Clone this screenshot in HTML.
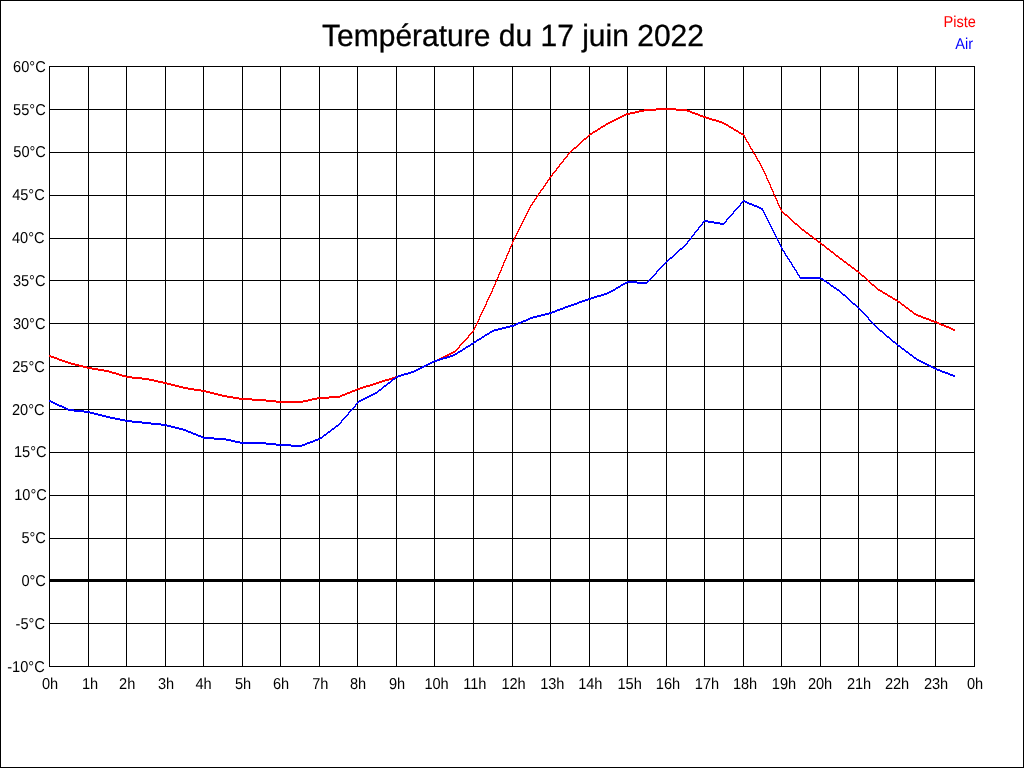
<!DOCTYPE html>
<html lang="fr"><head><meta charset="utf-8"><title>Température du 17 juin 2022</title>
<style>
html,body{margin:0;padding:0;background:#fff;}
body{width:1024px;height:768px;overflow:hidden;position:relative;}
svg{position:absolute;left:0;top:0;display:block;will-change:transform;}
text{font-family:"Liberation Sans",sans-serif;fill:#000;text-rendering:geometricPrecision;}
.t{font-size:30px;stroke:#000;stroke-width:0.3px;}
.l{font-size:14.6px;}
</style></head><body>
<svg width="1024" height="768" viewBox="0 0 1024 768">
<rect x="0" y="0" width="1024" height="768" fill="#fff"/>
<g shape-rendering="crispEdges" fill="#000">
<rect x="0" y="0" width="1024" height="1"/><rect x="0" y="767" width="1024" height="1"/>
<rect x="0" y="0" width="1" height="768"/><rect x="1023" y="0" width="1" height="768"/>
<rect x="49" y="66" width="1" height="601"/>
<rect x="88" y="66" width="1" height="601"/>
<rect x="126" y="66" width="1" height="601"/>
<rect x="165" y="66" width="1" height="601"/>
<rect x="203" y="66" width="1" height="601"/>
<rect x="242" y="66" width="1" height="601"/>
<rect x="280" y="66" width="1" height="601"/>
<rect x="319" y="66" width="1" height="601"/>
<rect x="357" y="66" width="1" height="601"/>
<rect x="396" y="66" width="1" height="601"/>
<rect x="434" y="66" width="1" height="601"/>
<rect x="473" y="66" width="1" height="601"/>
<rect x="512" y="66" width="1" height="601"/>
<rect x="550" y="66" width="1" height="601"/>
<rect x="589" y="66" width="1" height="601"/>
<rect x="627" y="66" width="1" height="601"/>
<rect x="666" y="66" width="1" height="601"/>
<rect x="704" y="66" width="1" height="601"/>
<rect x="743" y="66" width="1" height="601"/>
<rect x="781" y="66" width="1" height="601"/>
<rect x="820" y="66" width="1" height="601"/>
<rect x="858" y="66" width="1" height="601"/>
<rect x="897" y="66" width="1" height="601"/>
<rect x="935" y="66" width="1" height="601"/>
<rect x="974" y="66" width="1" height="601"/>
<rect x="49" y="66" width="926" height="1"/>
<rect x="49" y="109" width="926" height="1"/>
<rect x="49" y="152" width="926" height="1"/>
<rect x="49" y="195" width="926" height="1"/>
<rect x="49" y="238" width="926" height="1"/>
<rect x="49" y="280" width="926" height="1"/>
<rect x="49" y="323" width="926" height="1"/>
<rect x="49" y="366" width="926" height="1"/>
<rect x="49" y="409" width="926" height="1"/>
<rect x="49" y="452" width="926" height="1"/>
<rect x="49" y="495" width="926" height="1"/>
<rect x="49" y="538" width="926" height="1"/>
<rect x="49" y="579" width="926" height="3"/>
<rect x="49" y="623" width="926" height="1"/>
<rect x="49" y="666" width="926" height="1"/>
</g>
<path fill="#ff0000" shape-rendering="crispEdges" d="M656 108h20v1h-20zM644 109h43v1h-43zM639 110h17v1h-17zM676 110h14v1h-14zM635 111h9v1h-9zM687 111h5v1h-5zM630 112h9v1h-9zM690 112h5v1h-5zM626 113h9v1h-9zM692 113h6v1h-6zM624 114h6v1h-6zM695 114h5v1h-5zM622 115h4v1h-4zM698 115h5v1h-5zM620 116h4v1h-4zM700 116h6v1h-6zM618 117h4v1h-4zM703 117h6v1h-6zM616 118h4v1h-4zM706 118h6v1h-6zM614 119h4v1h-4zM709 119h7v1h-7zM612 120h4v1h-4zM712 120h7v1h-7zM610 121h4v1h-4zM716 121h6v1h-6zM608 122h4v1h-4zM719 122h5v1h-5zM606 123h4v1h-4zM722 123h4v1h-4zM605 124h3v1h-3zM724 124h4v1h-4zM603 125h3v1h-3zM726 125h3v1h-3zM601 126h4v1h-4zM728 126h3v1h-3zM600 127h3v1h-3zM729 127h4v1h-4zM598 128h3v1h-3zM731 128h3v1h-3zM597 129h3v1h-3zM733 129h3v1h-3zM595 130h3v1h-3zM734 130h4v1h-4zM593 131h4v1h-4zM736 131h3v1h-3zM592 132h3v1h-3zM738 132h3v1h-3zM590 133h3v1h-3zM739 133h4v1h-4zM589 134h3v1h-3zM741 134h3v1h-3zM588 135h2v1h-2zM743 135h2v1h-2zM587 136h2v1h-2zM744 136h1v1h-1zM586 137h2v1h-2zM744 137h2v1h-2zM584 138h3v1h-3zM745 138h1v1h-1zM583 139h3v1h-3zM745 139h2v1h-2zM582 140h2v1h-2zM746 140h1v1h-1zM581 141h2v1h-2zM746 141h2v1h-2zM580 142h2v1h-2zM747 142h2v1h-2zM579 143h2v1h-2zM748 143h1v1h-1zM578 144h2v1h-2zM748 144h2v1h-2zM577 145h2v1h-2zM749 145h1v1h-1zM576 146h2v1h-2zM749 146h2v1h-2zM574 147h3v1h-3zM750 147h1v1h-1zM573 148h3v1h-3zM750 148h2v1h-2zM572 149h2v1h-2zM751 149h2v1h-2zM571 150h2v1h-2zM752 150h1v1h-1zM570 151h2v1h-2zM752 151h2v1h-2zM569 152h2v1h-2zM753 152h1v1h-1zM568 153h2v1h-2zM753 153h2v1h-2zM567 154h2v1h-2zM754 154h2v1h-2zM567 155h1v1h-1zM755 155h1v1h-1zM566 156h2v1h-2zM755 156h2v1h-2zM565 157h2v1h-2zM756 157h1v1h-1zM564 158h2v1h-2zM756 158h2v1h-2zM563 159h2v1h-2zM757 159h1v1h-1zM563 160h1v1h-1zM757 160h2v1h-2zM562 161h2v1h-2zM758 161h2v1h-2zM561 162h2v1h-2zM759 162h1v1h-1zM560 163h2v1h-2zM759 163h2v1h-2zM559 164h2v1h-2zM760 164h1v1h-1zM559 165h1v1h-1zM760 165h2v1h-2zM558 166h2v1h-2zM761 166h1v1h-1zM557 167h2v1h-2zM761 167h2v1h-2zM556 168h2v1h-2zM762 168h1v1h-1zM556 169h1v1h-1zM762 169h2v1h-2zM555 170h2v1h-2zM763 170h1v1h-1zM554 171h2v1h-2zM763 171h2v1h-2zM553 172h2v1h-2zM764 172h1v1h-1zM552 173h2v1h-2zM764 173h2v1h-2zM552 174h1v1h-1zM765 174h1v1h-1zM551 175h2v1h-2zM765 175h2v1h-2zM550 176h2v1h-2zM766 176h1v1h-1zM549 177h2v1h-2zM766 177h1v1h-1zM549 178h1v1h-1zM766 178h2v1h-2zM548 179h2v1h-2zM767 179h1v1h-1zM547 180h2v1h-2zM767 180h2v1h-2zM547 181h1v1h-1zM768 181h1v1h-1zM546 182h2v1h-2zM768 182h2v1h-2zM545 183h2v1h-2zM769 183h1v1h-1zM545 184h1v1h-1zM769 184h2v1h-2zM544 185h2v1h-2zM770 185h1v1h-1zM543 186h2v1h-2zM770 186h1v1h-1zM543 187h1v1h-1zM770 187h2v1h-2zM542 188h2v1h-2zM771 188h1v1h-1zM541 189h2v1h-2zM771 189h2v1h-2zM540 190h2v1h-2zM772 190h1v1h-1zM540 191h1v1h-1zM772 191h2v1h-2zM539 192h2v1h-2zM773 192h1v1h-1zM538 193h2v1h-2zM773 193h1v1h-1zM538 194h1v1h-1zM773 194h2v1h-2zM537 195h2v1h-2zM774 195h1v1h-1zM536 196h2v1h-2zM774 196h2v1h-2zM536 197h1v1h-1zM775 197h1v1h-1zM535 198h2v1h-2zM775 198h2v1h-2zM534 199h2v1h-2zM776 199h1v1h-1zM534 200h1v1h-1zM776 200h2v1h-2zM533 201h2v1h-2zM777 201h1v1h-1zM532 202h2v1h-2zM777 202h1v1h-1zM532 203h1v1h-1zM777 203h2v1h-2zM531 204h2v1h-2zM778 204h1v1h-1zM530 205h2v1h-2zM778 205h2v1h-2zM530 206h1v1h-1zM779 206h1v1h-1zM529 207h2v1h-2zM779 207h2v1h-2zM529 208h1v1h-1zM780 208h1v1h-1zM528 209h2v1h-2zM780 209h2v1h-2zM528 210h1v1h-1zM781 210h1v1h-1zM527 211h2v1h-2zM781 211h2v1h-2zM527 212h1v1h-1zM782 212h2v1h-2zM526 213h2v1h-2zM783 213h2v1h-2zM526 214h1v1h-1zM784 214h3v1h-3zM525 215h2v1h-2zM785 215h3v1h-3zM525 216h1v1h-1zM787 216h2v1h-2zM524 217h2v1h-2zM788 217h2v1h-2zM524 218h1v1h-1zM789 218h2v1h-2zM523 219h2v1h-2zM790 219h2v1h-2zM523 220h1v1h-1zM791 220h2v1h-2zM522 221h2v1h-2zM792 221h2v1h-2zM522 222h1v1h-1zM793 222h2v1h-2zM521 223h2v1h-2zM794 223h3v1h-3zM521 224h1v1h-1zM795 224h3v1h-3zM520 225h2v1h-2zM797 225h2v1h-2zM520 226h1v1h-1zM798 226h2v1h-2zM519 227h2v1h-2zM799 227h2v1h-2zM519 228h1v1h-1zM800 228h2v1h-2zM518 229h2v1h-2zM801 229h3v1h-3zM518 230h1v1h-1zM802 230h3v1h-3zM517 231h2v1h-2zM804 231h2v1h-2zM517 232h1v1h-1zM805 232h3v1h-3zM516 233h2v1h-2zM806 233h3v1h-3zM516 234h1v1h-1zM808 234h2v1h-2zM515 235h2v1h-2zM809 235h3v1h-3zM515 236h1v1h-1zM810 236h3v1h-3zM514 237h2v1h-2zM812 237h2v1h-2zM514 238h1v1h-1zM813 238h3v1h-3zM513 239h2v1h-2zM814 239h3v1h-3zM513 240h1v1h-1zM816 240h2v1h-2zM512 241h2v1h-2zM817 241h3v1h-3zM512 242h1v1h-1zM818 242h3v1h-3zM512 243h1v1h-1zM820 243h2v1h-2zM511 244h2v1h-2zM821 244h3v1h-3zM511 245h1v1h-1zM822 245h3v1h-3zM510 246h2v1h-2zM824 246h2v1h-2zM510 247h1v1h-1zM825 247h2v1h-2zM509 248h2v1h-2zM826 248h3v1h-3zM509 249h1v1h-1zM827 249h3v1h-3zM509 250h1v1h-1zM829 250h2v1h-2zM508 251h2v1h-2zM830 251h3v1h-3zM508 252h1v1h-1zM831 252h3v1h-3zM507 253h2v1h-2zM833 253h2v1h-2zM507 254h1v1h-1zM834 254h2v1h-2zM506 255h2v1h-2zM835 255h3v1h-3zM506 256h1v1h-1zM836 256h3v1h-3zM506 257h1v1h-1zM838 257h2v1h-2zM505 258h2v1h-2zM839 258h3v1h-3zM505 259h1v1h-1zM840 259h3v1h-3zM504 260h2v1h-2zM842 260h2v1h-2zM504 261h1v1h-1zM843 261h3v1h-3zM503 262h2v1h-2zM844 262h3v1h-3zM503 263h1v1h-1zM846 263h2v1h-2zM503 264h1v1h-1zM847 264h3v1h-3zM502 265h2v1h-2zM848 265h3v1h-3zM502 266h1v1h-1zM850 266h2v1h-2zM501 267h2v1h-2zM851 267h3v1h-3zM501 268h1v1h-1zM852 268h3v1h-3zM501 269h1v1h-1zM854 269h2v1h-2zM500 270h2v1h-2zM855 270h3v1h-3zM500 271h1v1h-1zM856 271h3v1h-3zM499 272h2v1h-2zM858 272h2v1h-2zM499 273h1v1h-1zM859 273h2v1h-2zM498 274h2v1h-2zM860 274h2v1h-2zM498 275h1v1h-1zM861 275h3v1h-3zM498 276h1v1h-1zM862 276h3v1h-3zM497 277h2v1h-2zM864 277h2v1h-2zM497 278h1v1h-1zM865 278h2v1h-2zM496 279h2v1h-2zM866 279h2v1h-2zM496 280h1v1h-1zM867 280h2v1h-2zM495 281h2v1h-2zM868 281h2v1h-2zM495 282h1v1h-1zM869 282h2v1h-2zM495 283h1v1h-1zM870 283h2v1h-2zM494 284h2v1h-2zM871 284h3v1h-3zM494 285h1v1h-1zM872 285h3v1h-3zM493 286h2v1h-2zM874 286h2v1h-2zM493 287h1v1h-1zM875 287h2v1h-2zM492 288h2v1h-2zM876 288h2v1h-2zM492 289h1v1h-1zM877 289h3v1h-3zM492 290h1v1h-1zM878 290h4v1h-4zM491 291h2v1h-2zM880 291h3v1h-3zM491 292h1v1h-1zM882 292h3v1h-3zM490 293h2v1h-2zM883 293h4v1h-4zM490 294h1v1h-1zM885 294h3v1h-3zM489 295h2v1h-2zM887 295h3v1h-3zM489 296h1v1h-1zM888 296h4v1h-4zM488 297h2v1h-2zM890 297h3v1h-3zM488 298h1v1h-1zM892 298h3v1h-3zM487 299h2v1h-2zM893 299h4v1h-4zM487 300h1v1h-1zM895 300h3v1h-3zM486 301h2v1h-2zM897 301h3v1h-3zM486 302h1v1h-1zM898 302h3v1h-3zM486 303h1v1h-1zM900 303h2v1h-2zM485 304h2v1h-2zM901 304h3v1h-3zM485 305h1v1h-1zM902 305h3v1h-3zM484 306h2v1h-2zM904 306h2v1h-2zM484 307h1v1h-1zM905 307h3v1h-3zM483 308h2v1h-2zM906 308h3v1h-3zM483 309h1v1h-1zM908 309h2v1h-2zM482 310h2v1h-2zM909 310h3v1h-3zM482 311h1v1h-1zM910 311h3v1h-3zM481 312h2v1h-2zM912 312h2v1h-2zM481 313h1v1h-1zM913 313h3v1h-3zM480 314h2v1h-2zM914 314h4v1h-4zM480 315h1v1h-1zM916 315h5v1h-5zM479 316h2v1h-2zM918 316h5v1h-5zM479 317h1v1h-1zM921 317h5v1h-5zM479 318h1v1h-1zM923 318h6v1h-6zM478 319h2v1h-2zM926 319h5v1h-5zM478 320h1v1h-1zM929 320h5v1h-5zM477 321h2v1h-2zM931 321h6v1h-6zM477 322h1v1h-1zM934 322h5v1h-5zM476 323h2v1h-2zM937 323h4v1h-4zM476 324h1v1h-1zM939 324h5v1h-5zM475 325h2v1h-2zM941 325h5v1h-5zM475 326h1v1h-1zM944 326h5v1h-5zM474 327h2v1h-2zM946 327h5v1h-5zM474 328h1v1h-1zM949 328h4v1h-4zM473 329h2v1h-2zM951 329h4v1h-4zM473 330h1v1h-1zM953 330h2v1h-2zM472 331h2v1h-2zM471 332h2v1h-2zM470 333h2v1h-2zM469 334h2v1h-2zM468 335h2v1h-2zM468 336h1v1h-1zM467 337h2v1h-2zM466 338h2v1h-2zM465 339h2v1h-2zM464 340h2v1h-2zM463 341h2v1h-2zM462 342h2v1h-2zM461 343h2v1h-2zM460 344h2v1h-2zM459 345h2v1h-2zM459 346h1v1h-1zM458 347h2v1h-2zM457 348h2v1h-2zM456 349h2v1h-2zM455 350h2v1h-2zM453 351h3v1h-3zM451 352h4v1h-4zM449 353h4v1h-4zM447 354h4v1h-4zM49 355h2v1h-2zM445 355h4v1h-4zM49 356h5v1h-5zM443 356h4v1h-4zM51 357h6v1h-6zM441 357h4v1h-4zM54 358h5v1h-5zM439 358h4v1h-4zM57 359h5v1h-5zM437 359h4v1h-4zM59 360h6v1h-6zM434 360h5v1h-5zM62 361h6v1h-6zM432 361h5v1h-5zM65 362h6v1h-6zM430 362h4v1h-4zM68 363h7v1h-7zM428 363h4v1h-4zM71 364h8v1h-8zM426 364h4v1h-4zM75 365h8v1h-8zM424 365h4v1h-4zM79 366h8v1h-8zM422 366h4v1h-4zM83 367h9v1h-9zM420 367h4v1h-4zM87 368h11v1h-11zM418 368h4v1h-4zM92 369h12v1h-12zM416 369h4v1h-4zM98 370h11v1h-11zM414 370h4v1h-4zM104 371h8v1h-8zM411 371h5v1h-5zM109 372h7v1h-7zM408 372h6v1h-6zM112 373h7v1h-7zM404 373h7v1h-7zM116 374h6v1h-6zM401 374h7v1h-7zM119 375h7v1h-7zM398 375h6v1h-6zM122 376h10v1h-10zM395 376h6v1h-6zM126 377h16v1h-16zM392 377h6v1h-6zM132 378h17v1h-17zM389 378h6v1h-6zM142 379h12v1h-12zM385 379h7v1h-7zM149 380h9v1h-9zM382 380h7v1h-7zM154 381h9v1h-9zM379 381h6v1h-6zM158 382h9v1h-9zM376 382h6v1h-6zM163 383h8v1h-8zM373 383h6v1h-6zM167 384h8v1h-8zM370 384h6v1h-6zM171 385h8v1h-8zM366 385h7v1h-7zM175 386h8v1h-8zM363 386h7v1h-7zM179 387h9v1h-9zM360 387h6v1h-6zM183 388h11v1h-11zM357 388h6v1h-6zM188 389h13v1h-13zM355 389h5v1h-5zM194 390h12v1h-12zM352 390h5v1h-5zM201 391h9v1h-9zM350 391h5v1h-5zM206 392h8v1h-8zM347 392h5v1h-5zM210 393h8v1h-8zM345 393h5v1h-5zM214 394h8v1h-8zM342 394h5v1h-5zM218 395h9v1h-9zM340 395h5v1h-5zM222 396h11v1h-11zM329 396h13v1h-13zM227 397h12v1h-12zM317 397h23v1h-23zM233 398h19v1h-19zM312 398h17v1h-17zM239 399h27v1h-27zM308 399h9v1h-9zM252 400h24v1h-24zM303 400h9v1h-9zM266 401h42v1h-42zM276 402h27v1h-27z"/>
<path fill="#0000ff" shape-rendering="crispEdges" d="M743 200h2v1h-2zM742 201h5v1h-5zM741 202h2v1h-2zM745 202h4v1h-4zM740 203h2v1h-2zM747 203h5v1h-5zM740 204h1v1h-1zM749 204h5v1h-5zM739 205h2v1h-2zM752 205h5v1h-5zM738 206h2v1h-2zM754 206h5v1h-5zM737 207h2v1h-2zM757 207h4v1h-4zM736 208h2v1h-2zM759 208h4v1h-4zM735 209h2v1h-2zM761 209h2v1h-2zM734 210h2v1h-2zM762 210h2v1h-2zM733 211h2v1h-2zM763 211h1v1h-1zM733 212h1v1h-1zM763 212h2v1h-2zM732 213h2v1h-2zM764 213h1v1h-1zM731 214h2v1h-2zM764 214h2v1h-2zM730 215h2v1h-2zM765 215h1v1h-1zM729 216h2v1h-2zM765 216h2v1h-2zM728 217h2v1h-2zM766 217h1v1h-1zM727 218h2v1h-2zM766 218h2v1h-2zM726 219h2v1h-2zM767 219h1v1h-1zM704 220h4v1h-4zM726 220h1v1h-1zM767 220h2v1h-2zM703 221h11v1h-11zM725 221h2v1h-2zM768 221h1v1h-1zM702 222h2v1h-2zM708 222h12v1h-12zM724 222h2v1h-2zM768 222h2v1h-2zM702 223h1v1h-1zM714 223h11v1h-11zM769 223h1v1h-1zM701 224h2v1h-2zM720 224h4v1h-4zM769 224h2v1h-2zM700 225h2v1h-2zM770 225h1v1h-1zM699 226h2v1h-2zM770 226h2v1h-2zM698 227h2v1h-2zM771 227h1v1h-1zM698 228h1v1h-1zM771 228h2v1h-2zM697 229h2v1h-2zM772 229h1v1h-1zM696 230h2v1h-2zM772 230h2v1h-2zM695 231h2v1h-2zM773 231h1v1h-1zM694 232h2v1h-2zM773 232h2v1h-2zM694 233h1v1h-1zM774 233h1v1h-1zM693 234h2v1h-2zM774 234h2v1h-2zM692 235h2v1h-2zM775 235h1v1h-1zM691 236h2v1h-2zM775 236h2v1h-2zM691 237h1v1h-1zM776 237h1v1h-1zM690 238h2v1h-2zM776 238h2v1h-2zM689 239h2v1h-2zM777 239h1v1h-1zM688 240h2v1h-2zM777 240h2v1h-2zM687 241h2v1h-2zM778 241h1v1h-1zM687 242h1v1h-1zM778 242h2v1h-2zM686 243h2v1h-2zM779 243h1v1h-1zM685 244h2v1h-2zM779 244h2v1h-2zM684 245h2v1h-2zM780 245h1v1h-1zM683 246h2v1h-2zM780 246h2v1h-2zM682 247h2v1h-2zM781 247h1v1h-1zM680 248h3v1h-3zM781 248h2v1h-2zM679 249h3v1h-3zM782 249h1v1h-1zM678 250h2v1h-2zM782 250h2v1h-2zM677 251h2v1h-2zM783 251h2v1h-2zM676 252h2v1h-2zM784 252h1v1h-1zM675 253h2v1h-2zM784 253h2v1h-2zM674 254h2v1h-2zM785 254h1v1h-1zM673 255h2v1h-2zM785 255h2v1h-2zM672 256h2v1h-2zM786 256h2v1h-2zM670 257h3v1h-3zM787 257h1v1h-1zM669 258h3v1h-3zM787 258h2v1h-2zM668 259h2v1h-2zM788 259h2v1h-2zM667 260h2v1h-2zM789 260h1v1h-1zM666 261h2v1h-2zM789 261h2v1h-2zM665 262h2v1h-2zM790 262h2v1h-2zM664 263h2v1h-2zM791 263h1v1h-1zM663 264h2v1h-2zM791 264h2v1h-2zM662 265h2v1h-2zM792 265h1v1h-1zM661 266h2v1h-2zM792 266h2v1h-2zM660 267h2v1h-2zM793 267h2v1h-2zM659 268h2v1h-2zM794 268h1v1h-1zM658 269h2v1h-2zM794 269h2v1h-2zM657 270h2v1h-2zM795 270h2v1h-2zM656 271h2v1h-2zM796 271h1v1h-1zM656 272h1v1h-1zM796 272h2v1h-2zM655 273h2v1h-2zM797 273h1v1h-1zM654 274h2v1h-2zM797 274h2v1h-2zM653 275h2v1h-2zM798 275h2v1h-2zM652 276h2v1h-2zM799 276h1v1h-1zM651 277h2v1h-2zM799 277h22v1h-22zM650 278h2v1h-2zM800 278h23v1h-23zM649 279h2v1h-2zM821 279h3v1h-3zM648 280h2v1h-2zM823 280h3v1h-3zM627 281h10v1h-10zM647 281h2v1h-2zM824 281h3v1h-3zM625 282h23v1h-23zM826 282h3v1h-3zM623 283h4v1h-4zM637 283h10v1h-10zM827 283h3v1h-3zM621 284h4v1h-4zM829 284h2v1h-2zM620 285h3v1h-3zM830 285h3v1h-3zM618 286h3v1h-3zM831 286h3v1h-3zM616 287h4v1h-4zM833 287h3v1h-3zM615 288h3v1h-3zM834 288h3v1h-3zM613 289h3v1h-3zM836 289h3v1h-3zM611 290h4v1h-4zM837 290h3v1h-3zM609 291h4v1h-4zM839 291h2v1h-2zM607 292h4v1h-4zM840 292h2v1h-2zM604 293h5v1h-5zM841 293h2v1h-2zM601 294h6v1h-6zM842 294h3v1h-3zM597 295h7v1h-7zM843 295h3v1h-3zM594 296h7v1h-7zM845 296h2v1h-2zM591 297h6v1h-6zM846 297h2v1h-2zM588 298h6v1h-6zM847 298h2v1h-2zM585 299h6v1h-6zM848 299h2v1h-2zM582 300h6v1h-6zM849 300h2v1h-2zM579 301h6v1h-6zM850 301h2v1h-2zM577 302h5v1h-5zM851 302h2v1h-2zM574 303h5v1h-5zM852 303h3v1h-3zM571 304h6v1h-6zM853 304h3v1h-3zM568 305h6v1h-6zM855 305h2v1h-2zM565 306h6v1h-6zM856 306h2v1h-2zM563 307h5v1h-5zM857 307h2v1h-2zM560 308h5v1h-5zM858 308h2v1h-2zM557 309h6v1h-6zM859 309h2v1h-2zM555 310h5v1h-5zM860 310h2v1h-2zM552 311h5v1h-5zM861 311h2v1h-2zM549 312h6v1h-6zM862 312h2v1h-2zM545 313h7v1h-7zM863 313h2v1h-2zM541 314h8v1h-8zM864 314h2v1h-2zM537 315h8v1h-8zM865 315h2v1h-2zM533 316h8v1h-8zM866 316h2v1h-2zM530 317h7v1h-7zM867 317h2v1h-2zM528 318h5v1h-5zM868 318h1v1h-1zM526 319h4v1h-4zM868 319h2v1h-2zM523 320h5v1h-5zM869 320h2v1h-2zM521 321h5v1h-5zM870 321h2v1h-2zM518 322h5v1h-5zM871 322h2v1h-2zM516 323h5v1h-5zM872 323h2v1h-2zM514 324h4v1h-4zM873 324h2v1h-2zM510 325h6v1h-6zM874 325h2v1h-2zM506 326h8v1h-8zM875 326h2v1h-2zM502 327h8v1h-8zM876 327h2v1h-2zM498 328h8v1h-8zM877 328h2v1h-2zM494 329h8v1h-8zM878 329h2v1h-2zM492 330h6v1h-6zM879 330h3v1h-3zM490 331h4v1h-4zM880 331h3v1h-3zM489 332h3v1h-3zM882 332h2v1h-2zM487 333h3v1h-3zM883 333h2v1h-2zM485 334h4v1h-4zM884 334h2v1h-2zM484 335h3v1h-3zM885 335h2v1h-2zM482 336h3v1h-3zM886 336h3v1h-3zM481 337h3v1h-3zM887 337h3v1h-3zM479 338h3v1h-3zM889 338h2v1h-2zM477 339h4v1h-4zM890 339h2v1h-2zM476 340h3v1h-3zM891 340h2v1h-2zM474 341h3v1h-3zM892 341h3v1h-3zM473 342h3v1h-3zM893 342h3v1h-3zM471 343h3v1h-3zM895 343h2v1h-2zM470 344h3v1h-3zM896 344h2v1h-2zM468 345h3v1h-3zM897 345h3v1h-3zM466 346h4v1h-4zM898 346h3v1h-3zM465 347h3v1h-3zM900 347h2v1h-2zM463 348h3v1h-3zM901 348h3v1h-3zM462 349h3v1h-3zM902 349h3v1h-3zM460 350h3v1h-3zM904 350h2v1h-2zM458 351h4v1h-4zM905 351h3v1h-3zM457 352h3v1h-3zM906 352h3v1h-3zM455 353h3v1h-3zM908 353h2v1h-2zM453 354h4v1h-4zM909 354h3v1h-3zM450 355h5v1h-5zM910 355h3v1h-3zM447 356h6v1h-6zM912 356h2v1h-2zM443 357h7v1h-7zM913 357h3v1h-3zM440 358h7v1h-7zM914 358h3v1h-3zM437 359h6v1h-6zM916 359h3v1h-3zM434 360h6v1h-6zM917 360h4v1h-4zM432 361h5v1h-5zM919 361h4v1h-4zM430 362h4v1h-4zM921 362h4v1h-4zM428 363h4v1h-4zM923 363h4v1h-4zM426 364h4v1h-4zM925 364h4v1h-4zM424 365h4v1h-4zM927 365h4v1h-4zM422 366h4v1h-4zM929 366h4v1h-4zM420 367h4v1h-4zM931 367h4v1h-4zM418 368h4v1h-4zM933 368h4v1h-4zM416 369h4v1h-4zM935 369h5v1h-5zM414 370h4v1h-4zM937 370h5v1h-5zM411 371h5v1h-5zM940 371h5v1h-5zM408 372h6v1h-6zM942 372h6v1h-6zM404 373h7v1h-7zM945 373h5v1h-5zM401 374h7v1h-7zM948 374h5v1h-5zM398 375h6v1h-6zM950 375h5v1h-5zM396 376h5v1h-5zM953 376h2v1h-2zM395 377h3v1h-3zM393 378h3v1h-3zM392 379h3v1h-3zM391 380h2v1h-2zM390 381h2v1h-2zM388 382h3v1h-3zM387 383h3v1h-3zM386 384h2v1h-2zM384 385h3v1h-3zM383 386h3v1h-3zM382 387h2v1h-2zM381 388h2v1h-2zM379 389h3v1h-3zM378 390h3v1h-3zM377 391h2v1h-2zM375 392h3v1h-3zM373 393h4v1h-4zM371 394h4v1h-4zM369 395h4v1h-4zM367 396h4v1h-4zM365 397h4v1h-4zM363 398h4v1h-4zM361 399h4v1h-4zM49 400h2v1h-2zM359 400h4v1h-4zM49 401h4v1h-4zM358 401h3v1h-3zM51 402h4v1h-4zM357 402h2v1h-2zM53 403h4v1h-4zM356 403h2v1h-2zM55 404h4v1h-4zM355 404h2v1h-2zM57 405h5v1h-5zM355 405h1v1h-1zM59 406h5v1h-5zM354 406h2v1h-2zM62 407h4v1h-4zM353 407h2v1h-2zM64 408h4v1h-4zM352 408h2v1h-2zM66 409h8v1h-8zM351 409h2v1h-2zM68 410h16v1h-16zM350 410h2v1h-2zM74 411h16v1h-16zM349 411h2v1h-2zM84 412h10v1h-10zM348 412h2v1h-2zM90 413h8v1h-8zM348 413h1v1h-1zM94 414h8v1h-8zM347 414h2v1h-2zM98 415h8v1h-8zM346 415h2v1h-2zM102 416h8v1h-8zM345 416h2v1h-2zM106 417h9v1h-9zM344 417h2v1h-2zM110 418h10v1h-10zM343 418h2v1h-2zM115 419h10v1h-10zM342 419h2v1h-2zM120 420h12v1h-12zM341 420h2v1h-2zM125 421h17v1h-17zM341 421h1v1h-1zM132 422h19v1h-19zM340 422h2v1h-2zM142 423h19v1h-19zM339 423h2v1h-2zM151 424h16v1h-16zM338 424h2v1h-2zM161 425h10v1h-10zM336 425h3v1h-3zM167 426h8v1h-8zM335 426h3v1h-3zM171 427h8v1h-8zM334 427h2v1h-2zM175 428h8v1h-8zM332 428h3v1h-3zM179 429h7v1h-7zM331 429h3v1h-3zM183 430h5v1h-5zM330 430h2v1h-2zM186 431h5v1h-5zM328 431h3v1h-3zM188 432h5v1h-5zM327 432h3v1h-3zM191 433h5v1h-5zM326 433h2v1h-2zM193 434h5v1h-5zM324 434h3v1h-3zM196 435h5v1h-5zM323 435h3v1h-3zM198 436h5v1h-5zM322 436h2v1h-2zM201 437h13v1h-13zM320 437h3v1h-3zM203 438h23v1h-23zM318 438h4v1h-4zM214 439h17v1h-17zM315 439h5v1h-5zM226 440h9v1h-9zM313 440h5v1h-5zM231 441h9v1h-9zM310 441h5v1h-5zM235 442h31v1h-31zM307 442h6v1h-6zM240 443h36v1h-36zM305 443h5v1h-5zM266 444h25v1h-25zM302 444h5v1h-5zM276 445h29v1h-29zM291 446h11v1h-11z"/>
<text class="t" transform="translate(513 46) scale(1 1.025)" text-anchor="middle">Température du 17 juin 2022</text>
<text class="l" transform="translate(976 27) scale(1 1.08)" text-anchor="end" style="fill:#ff0000">Piste</text>
<text class="l" transform="translate(973 49) scale(1 1.08)" text-anchor="end" style="fill:#0000ff">Air</text>
<text class="l" transform="translate(45.70 72) scale(1 1.08)" text-anchor="end">60°C</text>
<text class="l" transform="translate(45.70 115) scale(1 1.08)" text-anchor="end">55°C</text>
<text class="l" transform="translate(45.90 157) scale(1 1.08)" text-anchor="end">50°C</text>
<text class="l" transform="translate(44.75 200) scale(1 1.08)" text-anchor="end">45°C</text>
<text class="l" transform="translate(44.60 243) scale(1 1.08)" text-anchor="end">40°C</text>
<text class="l" transform="translate(45.50 286) scale(1 1.08)" text-anchor="end">35°C</text>
<text class="l" transform="translate(45.50 329) scale(1 1.08)" text-anchor="end">30°C</text>
<text class="l" transform="translate(44.76 372) scale(1 1.08)" text-anchor="end">25°C</text>
<text class="l" transform="translate(44.60 415) scale(1 1.08)" text-anchor="end">20°C</text>
<text class="l" transform="translate(46.60 457) scale(1 1.08)" text-anchor="end">15°C</text>
<text class="l" transform="translate(46.80 500) scale(1 1.08)" text-anchor="end">10°C</text>
<text class="l" transform="translate(45.90 543) scale(1 1.08)" text-anchor="end">5°C</text>
<text class="l" transform="translate(45.90 586) scale(1 1.08)" text-anchor="end">0°C</text>
<text class="l" transform="translate(44.95 629) scale(1 1.08)" text-anchor="end">-5°C</text>
<text class="l" transform="translate(44.70 672) scale(1 1.08)" text-anchor="end">-10°C</text>
<text class="l" transform="translate(50.05 689) scale(1 1.08)" text-anchor="middle">0h</text>
<text class="l" transform="translate(90.05 689) scale(1 1.08)" text-anchor="middle">1h</text>
<text class="l" transform="translate(127.15 689) scale(1 1.08)" text-anchor="middle">2h</text>
<text class="l" transform="translate(166.05 689) scale(1 1.08)" text-anchor="middle">3h</text>
<text class="l" transform="translate(203.55 689) scale(1 1.08)" text-anchor="middle">4h</text>
<text class="l" transform="translate(243.05 689) scale(1 1.08)" text-anchor="middle">5h</text>
<text class="l" transform="translate(281.05 689) scale(1 1.08)" text-anchor="middle">6h</text>
<text class="l" transform="translate(320.30 689) scale(1 1.08)" text-anchor="middle">7h</text>
<text class="l" transform="translate(358.05 689) scale(1 1.08)" text-anchor="middle">8h</text>
<text class="l" transform="translate(397.05 689) scale(1 1.08)" text-anchor="middle">9h</text>
<text class="l" transform="translate(436.55 689) scale(1 1.08)" text-anchor="middle">10h</text>
<text class="l" transform="translate(474.80 689) scale(1 1.08)" text-anchor="middle">11h</text>
<text class="l" transform="translate(513.55 689) scale(1 1.08)" text-anchor="middle">12h</text>
<text class="l" transform="translate(552.30 689) scale(1 1.08)" text-anchor="middle">13h</text>
<text class="l" transform="translate(590.30 689) scale(1 1.08)" text-anchor="middle">14h</text>
<text class="l" transform="translate(629.65 689) scale(1 1.08)" text-anchor="middle">15h</text>
<text class="l" transform="translate(667.95 689) scale(1 1.08)" text-anchor="middle">16h</text>
<text class="l" transform="translate(706.95 689) scale(1 1.08)" text-anchor="middle">17h</text>
<text class="l" transform="translate(745.05 689) scale(1 1.08)" text-anchor="middle">18h</text>
<text class="l" transform="translate(783.95 689) scale(1 1.08)" text-anchor="middle">19h</text>
<text class="l" transform="translate(820.05 689) scale(1 1.08)" text-anchor="middle">20h</text>
<text class="l" transform="translate(859.05 689) scale(1 1.08)" text-anchor="middle">21h</text>
<text class="l" transform="translate(897.05 689) scale(1 1.08)" text-anchor="middle">22h</text>
<text class="l" transform="translate(936.05 689) scale(1 1.08)" text-anchor="middle">23h</text>
<text class="l" transform="translate(975.05 689) scale(1 1.08)" text-anchor="middle">0h</text>
</svg></body></html>
